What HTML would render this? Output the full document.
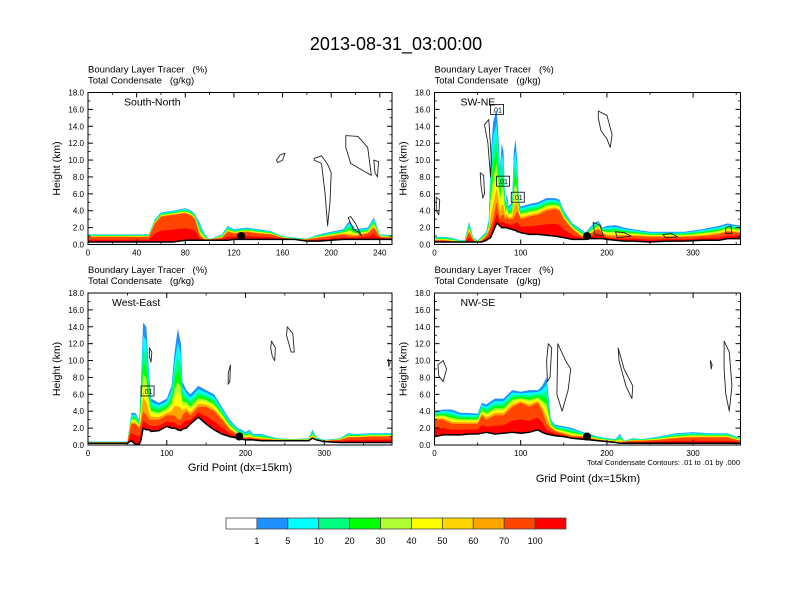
<!DOCTYPE html>
<html><head><meta charset="utf-8">
<style>
body{margin:0;background:#fff;}
svg{display:block;font-family:"Liberation Sans",Arial,sans-serif;}
text{white-space:pre;}
</style></head>
<body>
<svg id="fig" width="792" height="612" viewBox="0 0 792 612" xmlns="http://www.w3.org/2000/svg">
<rect width="792" height="612" fill="#fff"/>
<text x="396" y="50" font-size="18" text-anchor="middle">2013-08-31_03:00:00</text>
<g id="panels"></g>
<g id="cbar"></g>
</svg>
<script>
// ---- data ----
const colorLevels = ["1","5","10","20","30","40","50","60","70","100"];
const colorFills = ["#ffffff","#1e90ff","#00ffff","#00ff80","#00ff00","#b0ff30","#ffff00","#ffd700","#ffa500","#ff4500","#ff0000"];
const yTickVals = [0,2,4,6,8,10,12,14,16,18];

const snXs = [0,10,20,30,40,50,55,60,70,80,85,88,92,96,100,110,115,120,130,140,150,160,170,180,190,200,210,215,220,230,235,240,250];
const snTerrain = [0.3,0.3,0.3,0.3,0.3,0.3,0.3,0.3,0.3,0.5,0.5,0.5,0.5,0.5,0.5,0.5,0.5,0.6,0.6,0.6,0.6,0.6,0.6,0.4,0.4,0.5,0.6,0.6,0.6,0.6,0.6,0.6,0.6];
const snRed = [0.9,0.9,0.9,0.9,0.9,0.9,2.5,3.3,3.5,3.7,3.4,3.0,1.0,0.6,0.6,0.8,1.5,1.3,1.5,1.3,1.2,0.8,0.6,0.6,0.8,1.0,1.2,1.0,1.0,1.3,2.0,0.9,0.8];
const snEdge = [1.2,1.2,1.2,1.2,1.2,1.2,3.0,3.8,4.0,4.3,4.0,3.6,2.5,1.2,0.6,1.2,2.2,1.8,2.0,1.8,1.6,1.0,0.8,0.7,1.2,1.5,1.8,2.8,1.8,2.0,3.2,1.2,1.1];
const snContours = [
 [[155,10],[158,10.6],[162,10.8],[160,10.0],[156,9.7]],
 [[186,10],[192,9.6],[195,6],[197,2.2],[199,5],[200,8.5],[197,9.5],[192,10.5],[186,10.2]],
 [[212,12.9],[222,12.8],[230,11.5],[233,8.2],[228,8.6],[216,9.6],[212,11.5]],
 [[235,10],[239,9.8],[238,8],[236,8.5]],
 [[214,3.2],[218,1.8],[222,1.5],[225,1.0],[220,2.5],[216,3.3]]
];
const snDot = [126,1.0];

const swXs = [0,10,20,30,35,40,45,50,55,60,63,65,68,72,74,76,78,80,82,84,86,90,92,94,96,98,100,110,120,130,140,145,150,160,170,175,180,185,190,195,200,210,220,230,250,270,290,310,330,340,350,355];
const swTerrain = [0.3,0.3,0.3,0.3,0.3,0.3,0.3,0.3,0.3,0.5,0.7,0.8,1.5,2.5,2.4,2.2,2.0,2.0,2.0,2.0,1.9,1.8,1.7,1.7,1.5,1.5,1.4,1.2,1.2,1.1,1.0,0.9,0.8,0.6,0.6,0.6,0.7,0.7,0.7,0.7,0.6,0.5,0.4,0.4,0.3,0.4,0.4,0.5,0.5,0.7,0.7,0.7];
const swRed = [0.5,0.5,0.4,0.3,0.3,1.5,0.5,0.3,0.5,1.0,1.5,2.0,3.0,5.0,4.0,3.0,3.5,3.5,3.0,3.2,3.0,3.0,3.2,3.5,4.0,3.5,3.0,3.3,3.5,4.0,4.2,4.0,3.0,1.8,1.0,0.8,1.2,1.5,1.8,1.3,1.0,0.9,1.0,1.0,0.9,0.9,0.9,1.0,1.2,1.5,1.4,1.4];
const swEdge = [0.9,0.9,0.8,0.5,0.5,2.7,0.8,0.5,1.0,1.5,3,10,14.5,16,13,9,12,11,5,6,4.5,5,11,12.5,10,5,4.5,4.8,5,5.5,5.5,5.3,4,2.5,1.8,1.4,2.0,2.5,2.8,2.0,2.2,2.3,2.0,1.8,1.5,1.5,1.5,1.8,2.2,2.5,2.3,2.3];
const swContours = [
 [[58,14.2],[63,14.8],[66,10],[65,8],[62,12]],
 [[53,8.5],[57,8.2],[58,6],[56,5.5],[54,7]],
 [[2,5.6],[6,5.3],[5,3.5],[2,4]],
 [[190,15.8],[200,15.3],[206,13],[204,11.5],[200,12.5],[193,13.5],[190,15]],
 [[184,2.6],[192,2.3],[196,1.0],[186,1.2]],
 [[210,1.5],[220,1.4],[228,1.0],[212,0.8]],
 [[265,1.2],[275,1.3],[282,0.9],[268,0.8]],
 [[338,2.0],[344,2.2],[345,1.3],[338,1.3]]
];
const swLabels = [[72,16,".01"],[79,7.5,".01"],[96,5.6,".01"]];
const swDot = [177,1.0];

const weXs = [0,20,40,50,55,60,65,67,70,74,78,80,90,100,106,110,114,118,120,125,130,140,150,160,170,180,190,195,200,205,210,220,240,260,280,285,290,300,320,330,340,360,386];
const weTerrain = [0.2,0.2,0.2,0.2,0.5,0.1,0.1,0.5,2.0,1.8,1.8,1.6,1.7,2.2,2.0,2.0,1.8,1.7,1.9,2.0,2.5,3.3,2.5,1.8,1.3,1.0,0.8,0.7,0.6,0.6,0.6,0.5,0.5,0.5,0.5,0.8,0.6,0.4,0.3,0.3,0.3,0.3,0.3];
const weRed = [0.3,0.3,0.3,0.3,2.5,2.5,2.0,2.5,4.0,3.5,3.0,3.0,3.0,3.5,3.5,3.5,3.0,3.0,3.5,4.0,3.5,4.5,4.5,4.0,3.0,1.8,1.2,1.0,0.8,0.9,0.8,0.7,0.6,0.6,0.6,0.9,0.6,0.5,0.6,0.9,0.9,1.0,1.0];
const weEdge = [0.4,0.4,0.4,0.4,3.8,3.8,3.0,7,14.5,14,8,5.5,5.0,5.5,7,11,13.8,12,7.5,6.5,6.0,7,6.5,6,4.5,3.0,2.0,1.8,1.5,1.8,1.3,1.3,0.8,0.7,0.8,1.8,0.9,0.6,0.8,1.4,1.3,1.4,1.4];
const weContours = [
 [[78,11.5],[81,11],[80,9.8],[78,10.5]],
 [[178,8.5],[181,9.5],[180,7.5],[178,7.2]],
 [[233,12.3],[238,11.5],[237,10],[234,10.5],[232,11.5]],
 [[253,14],[260,13.2],[262,11],[258,11],[252,13]],
 [[381,10.2],[384,9.8],[382,9.3]]
];
const weLabels = [[75,6.4,".01"]];
const weDot = [192,1.0];

const nwXs = [0,10,20,30,40,50,55,60,70,80,90,100,110,120,125,130,135,140,150,160,170,180,190,200,210,215,220,230,240,260,280,300,320,340,350,355];
const nwTerrain = [1.0,1.2,1.2,1.2,1.3,1.3,1.4,1.5,1.3,1.4,1.5,1.4,1.5,1.8,1.5,1.3,1.2,1.1,1.0,0.8,0.7,0.6,0.5,0.4,0.3,0.2,0.2,0.2,0.2,0.2,0.2,0.2,0.2,0.2,0.2,0.2];
const nwRed = [3.0,3.0,2.5,2.5,2.5,2.5,3.5,3.0,3.5,3.5,4.5,5.0,4.5,5.0,4.0,2.5,2.0,1.6,1.3,1.0,1.0,0.8,0.6,0.5,0.4,0.3,0.4,0.5,0.5,0.6,0.8,0.9,0.9,0.9,0.6,0.5];
const nwEdge = [4.0,4.2,4.2,3.8,3.8,3.7,5.0,4.8,5.5,5.5,6.5,6.3,6.5,6.5,7.0,8,3.0,2.4,2.2,2.0,1.6,1.3,1.0,0.8,0.7,1.3,0.5,0.8,0.7,1.0,1.4,1.5,1.4,1.4,1.0,1.1];
const nwContours = [
 [[4,9.5],[10,10],[14,9],[10,7.5],[5,8.2]],
 [[132,12],[136,11.5],[134,8],[131,7.5],[130,10]],
 [[143,12],[152,10],[158,9],[155,6.5],[148,4],[142,6]],
 [[213,11.5],[220,9],[230,7],[229,5.5],[222,7],[214,10]],
 [[320,10],[322,9.5],[321,9]],
 [[336,12.3],[342,11],[345,7],[342,4],[338,6],[336,9]]
];
const nwDot = [177,1.0];

// ---- rendering ----
const NS="http://www.w3.org/2000/svg";
function mk(tag,attrs,parent){const e=document.createElementNS(NS,tag);for(const k in attrs)e.setAttribute(k,attrs[k]);if(parent)parent.appendChild(e);return e;}
const panelsG=document.getElementById('panels');

function drawPanel(p){
  const g=mk('g',{},panelsG);
  
  
  const sx=v=>p.x0+v/p.xmax*p.w;
  const sy=v=>p.y0+p.h-v/18*p.h;
  const cid='clip-'+p.name;
  const cp=mk('clipPath',{id:cid},g);mk('rect',{x:p.x0,y:p.y0,width:p.w,height:p.h},cp);
  const fg=mk('g',{'clip-path':'url(#'+cid+')'},g);
  
  
  const fr=[1,0.85,0.7,0.55,0.42,0.3,0.15,0];
  const cols=["#1e90ff","#00ffff","#00ff80","#00ff00","#b0ff30","#ffff00","#ffa500","#ff4500"];
  function bandPoly(topFn,col,nm){
    let pts=[];
    for(let i=0;i<p.xs.length;i++)pts.push(sx(p.xs[i]).toFixed(1)+','+sy(topFn(i)).toFixed(1));
    for(let i=p.xs.length-1;i>=0;i--)pts.push(sx(p.xs[i]).toFixed(1)+','+sy(p.terrain[i]).toFixed(1));
    const pl=mk('polygon',{points:pts.join(' '),fill:col},fg);
    
    
  }
  fr.forEach((f,k)=>bandPoly(i=>p.red[i]+f*(p.edge[i]-p.red[i]),cols[k],'band-'+k));
  bandPoly(i=>p.terrain[i]+0.45*(p.red[i]-p.terrain[i]),"#ff0000",'band-red');
  const tl=mk('polyline',{points:p.xs.map((x,i)=>sx(x).toFixed(1)+','+sy(p.terrain[i]).toFixed(1)).join(' '),fill:'none',stroke:'#000','stroke-width':1.5},fg);
  
  
  p.contours.forEach(c=>{
    const pts=c.map(q=>sx(q[0]).toFixed(1)+','+sy(q[1]).toFixed(1));
    const cl=mk('polygon',{points:pts.join(' '),fill:'none',stroke:'#222','stroke-width':0.9,'stroke-linejoin':'round'},fg);
    
    
  });
  (p.labels||[]).forEach(l=>{
    const r=mk('rect',{x:sx(l[0])-6,y:sy(l[1])-5,width:13,height:10,fill:'none',stroke:'#000','stroke-width':0.8},fg);
    
    
    const t=mk('text',{x:sx(l[0])+0.5,y:sy(l[1])+3,'font-size':7,'text-anchor':'middle'},fg);t.textContent=l[2];
    
    
  });
  const dot=mk('circle',{cx:sx(p.dot[0]),cy:sy(p.dot[1]),r:4,fill:'#000'},g);
  
  
  const fr2=mk('rect',{x:p.x0,y:p.y0,width:p.w,height:p.h,fill:'none',stroke:'#000','stroke-width':1},g);
  
  
  yTickVals.forEach(v=>{
    const y=sy(v);
    mk('line',{x1:p.x0,x2:p.x0+5,y1:y,y2:y,stroke:'#000','stroke-width':1},g);
    mk('line',{x1:p.x0+p.w,x2:p.x0+p.w-5,y1:y,y2:y,stroke:'#000','stroke-width':1},g);
    const t=mk('text',{x:p.x0-4,y:y+3,'font-size':8,'text-anchor':'end'},g);t.textContent=v.toFixed(1);
    
    
  });
  for(let v=1;v<18;v+=2){const y=sy(v);
    mk('line',{x1:p.x0,x2:p.x0+2.5,y1:y,y2:y,stroke:'#000','stroke-width':0.8},g);
    mk('line',{x1:p.x0+p.w,x2:p.x0+p.w-2.5,y1:y,y2:y,stroke:'#000','stroke-width':0.8},g);}
  p.xticks.forEach(v=>{
    const x=sx(v);
    mk('line',{x1:x,x2:x,y1:p.y0+p.h,y2:p.y0+p.h-5,stroke:'#000','stroke-width':1},g);
    mk('line',{x1:x,x2:x,y1:p.y0,y2:p.y0+5,stroke:'#000','stroke-width':1},g);
    const t=mk('text',{x:x,y:p.y0+p.h+11,'font-size':8,'text-anchor':'middle'},g);t.textContent=String(v);
    
    
  });
  for(let v=p.minor;v<p.xmax;v+=p.minor){if(p.xticks.includes(v))continue;const x=sx(v);
    mk('line',{x1:x,x2:x,y1:p.y0+p.h,y2:p.y0+p.h-2.5,stroke:'#000','stroke-width':0.8},g);
    mk('line',{x1:x,x2:x,y1:p.y0,y2:p.y0+2.5,stroke:'#000','stroke-width':0.8},g);}
  const t1=mk('text',{x:p.x0,y:p.y0-20,'font-size':9.5},g);t1.textContent='Boundary Layer Tracer   (%)';
  
  
  const t2=mk('text',{x:p.x0,y:p.y0-9,'font-size':9.5},g);t2.textContent='Total Condensate   (g/kg)';
  
  
  const t3=mk('text',{x:p.x0+p.lx,y:p.y0+13,'font-size':10.5},g);t3.textContent=p.title;
  
  
  const yl=mk('text',{x:0,y:0,'font-size':10.5,'text-anchor':'middle',transform:`translate(${p.x0-28},${p.y0+p.h/2}) rotate(-90)`},g);yl.textContent='Height (km)';
  
  
}

const pTL={name:'south-north',title:'South-North',lx:36,x0:88,y0:92.5,w:304,h:152,xmax:250,xticks:[0,40,80,120,160,200,240],minor:20,xs:snXs,terrain:snTerrain,red:snRed,edge:snEdge,contours:snContours,dot:snDot};
const pTR={name:'sw-ne',title:'SW-NE',lx:26,x0:434.5,y0:92.5,w:306,h:152,xmax:355,xticks:[0,100,200,300],minor:50,xs:swXs,terrain:swTerrain,red:swRed,edge:swEdge,contours:swContours,labels:swLabels,dot:swDot};
const pBL={name:'west-east',title:'West-East',lx:24,x0:88,y0:293,w:304,h:152,xmax:386,xticks:[0,100,200,300],minor:50,xs:weXs,terrain:weTerrain,red:weRed,edge:weEdge,contours:weContours,labels:weLabels,dot:weDot};
const pBR={name:'nw-se',title:'NW-SE',lx:26,x0:434.5,y0:293,w:306,h:152,xmax:355,xticks:[0,100,200,300],minor:50,xs:nwXs,terrain:nwTerrain,red:nwRed,edge:nwEdge,contours:nwContours,dot:nwDot};
[pTL,pTR,pBL,pBR].forEach(drawPanel);

function txt(x,y,s,size,anchor,name){const t=mk('text',{x:x,y:y,'font-size':size,'text-anchor':anchor},panelsG);t.textContent=s;
  
  }
txt(240,471,'Grid Point (dx=15km)',11,'middle','x-axis-title');
txt(588,482,'Grid Point (dx=15km)',11,'middle','x-axis-title');
txt(740,465,'Total Condensate Contours: .01 to .01 by .000',7.5,'end','contour-info');

const cb=document.getElementById('cbar');
const cbX=226,cbW=340,cbY=518,cbH=11,bw=cbW/colorFills.length;
colorFills.forEach((c,i)=>{
  const r=mk('rect',{x:cbX+i*bw,y:cbY,width:bw,height:cbH,fill:c,stroke:'#444','stroke-width':0.8},cb);
  
  
});
colorLevels.forEach((l,i)=>{
  const t=mk('text',{x:cbX+(i+1)*bw,y:544,'font-size':9,'text-anchor':'middle'},cb);t.textContent=l;
  
  
});
</script>
</body></html>
